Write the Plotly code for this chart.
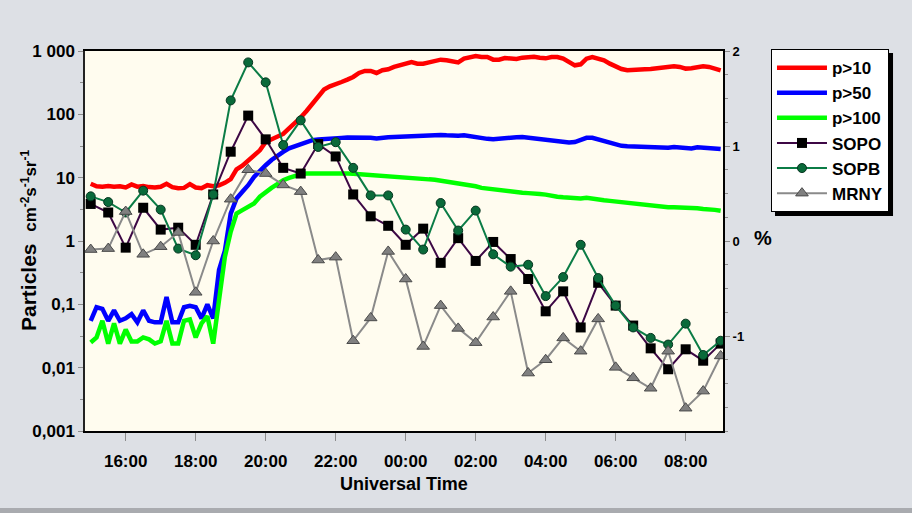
import pandas as pd
import plotly.graph_objects as go

# ---- integral proton flux, 10-minute samples, 15:00 -> 09:00 UT ----
flux_times = pd.date_range("2017-09-10 15:00", "2017-09-11 09:00", freq="10min")

p10 = [8.0, 7.3, 7.2, 7.4, 7.2, 7.3, 7.0, 7.8, 7.2, 7.4, 7.1, 7.0, 7.2, 8.0, 7.1, 6.8,
       6.9, 7.9, 7.0, 6.8, 7.6, 7.3,
       7.6, 8.3, 9.5, 13.5, 15.5, 18.4, 22.5, 27, 36.5, 40, 43, 49, 60, 72, 89, 113,
       148, 200, 246, 277, 305, 324, 353, 389, 450, 484, 484, 450, 496, 514, 560, 601, 647,
       670, 631, 631, 662, 695, 730, 713, 695, 662, 757, 804, 834, 804, 804, 730, 730,
       776, 757, 748, 785, 804, 814, 785, 766, 804, 804, 757, 670, 594, 616, 757, 804,
       748, 713, 631, 573, 520, 496, 496, 506, 514, 520, 533, 546, 546, 573, 560, 527,
       533, 546, 573, 560, 533, 496]

p50 = [0.055, 0.09, 0.085, 0.055, 0.08, 0.055, 0.06, 0.07, 0.052, 0.08, 0.055, 0.052,
       0.052, 0.13, 0.052, 0.052, 0.09, 0.095, 0.09, 0.06, 0.10, 0.06,
       0.35, 0.7, 2.7, 4.7, 6.0, 7.6, 10.3, 12.4, 15.7, 19, 22.5, 25.5, 29, 31.5, 34.5,
       36.5, 39, 40, 41, 41.4, 42, 42.5, 43, 43, 43.5, 43.5, 42.5, 41.4, 43, 43.5, 44,
       44.6, 45,
       45.5, 46, 46, 46.6, 47.2, 47.2, 46.6, 45.5, 46, 46.6, 45, 43, 42, 41, 40.4, 41.4,
       43, 43.5, 43.5, 44, 43, 42, 40.4, 39, 38, 37, 36.5, 36, 36.5, 39, 42.5, 42.5, 40,
       37, 34.5, 33, 31.8, 31.4, 31, 30.6, 30.6, 30.2, 30.2, 29.8, 29.8, 30.6, 30.2,
       29.8, 29, 30.2, 29.8, 28.7, 29, 28.3]

p100 = [0.025, 0.03, 0.055, 0.024, 0.05, 0.024, 0.04, 0.026, 0.026, 0.03, 0.028, 0.024,
        0.026, 0.055, 0.024, 0.024, 0.055, 0.058, 0.03, 0.05, 0.065, 0.024,
        0.117, 0.56, 1.4, 2.72, 3.07, 3.46, 3.9, 5.0, 6.0, 6.9, 7.9, 9.1, 9.9, 10.7, 11.3,
        11.6, 11.6, 11.8, 11.9, 11.9, 12, 11.9, 11.6, 11.5, 11.3, 11.0, 10.9, 10.7, 10.5,
        10.3, 10.1, 9.9, 9.8,
        9.6, 9.5, 9.4, 9.4, 9.3, 9.0, 8.7, 8.3, 8.2, 7.9, 7.7, 7.3, 6.9, 6.7, 6.6, 6.4,
        6.3, 6.1, 5.9, 5.8, 5.7, 5.7, 5.5, 5.4, 5.3, 5.0, 4.9, 4.8, 4.8, 4.7, 4.8, 4.6,
        4.5, 4.4, 4.3, 4.2, 4.0, 4.0, 3.9, 3.8, 3.7, 3.6, 3.5, 3.5, 3.4, 3.4, 3.4, 3.3,
        3.3, 3.3, 3.2, 3.2, 3.1, 3.0]

# ---- neutron monitor increase (%), 30-minute samples ----
nm_times = pd.date_range("2017-09-10 15:00", "2017-09-11 09:00", freq="30min")

sopo = [0.39, 0.30, -0.07, 0.35, 0.12, 0.14, -0.04, 0.49, 0.94, 1.32, 1.07, 0.77, 0.71,
        1.02, 0.89, 0.49, 0.26, 0.16, -0.04,
        0.13, -0.23, 0.03, -0.21, -0.01, -0.19, -0.40, -0.74, -0.53, -0.91, -0.44, -0.68,
        -0.89, -1.13, -1.35, -1.14, -1.26, -1.08]

sopb = [0.47, 0.41, 0.30, 0.53, 0.33, -0.08, -0.15, 0.49, 1.48, 1.88, 1.67, 1.01, 1.27,
        0.99, 1.04, 0.77, 0.48, 0.48, 0.12,
        -0.09, 0.40, 0.11, 0.32, -0.14, -0.27, -0.25, -0.58, -0.38, -0.04, -0.39, -0.68,
        -0.91, -1.02, -1.09, -0.87, -1.20, -1.05]

mrny = [-0.09, -0.08, 0.31, -0.14, -0.06, 0.09, -0.54, 0.00, 0.44, 0.75, 0.71, 0.59, 0.52,
        -0.20, -0.17, -1.05, -0.81, -0.11, -0.40,
        -1.11, -0.68, -0.92, -1.07, -0.80, -0.53, -1.39, -1.25, -1.02, -1.16, -0.82, -1.33,
        -1.44, -1.55, -1.16, -1.76, -1.58, -1.21]

# ---- axis labels ----
flux_tickvals = [1000, 100, 10, 1, 0.1, 0.01, 0.001]
flux_ticktext = ["1 000", "100", "10", "1", "0,1", "0,01", "0,001"]
flux_minor = [316.2, 31.62, 3.162, 0.3162, 0.03162, 0.003162]
pct_tickvals = [2, 1, 0, -1]
pct_ticktext = ["2", "1", "0", "-1"]

FONT = "Liberation Sans, Arial, sans-serif"

fig = go.Figure()

for name, vals, color in [("p>10", p10, "#ff0000"),
                          ("p>50", p50, "#0000ff"),
                          ("p>100", p100, "#00ff00")]:
    fig.add_trace(go.Scatter(x=flux_times, y=vals, name=name, mode="lines",
                             line=dict(color=color, width=4.5)))

fig.add_trace(go.Scatter(
    x=nm_times, y=sopo, name="SOPO", mode="lines+markers", yaxis="y2",
    line=dict(color="#3d0845", width=2),
    marker=dict(symbol="square", size=10, color="#000000", line=dict(width=0))))
fig.add_trace(go.Scatter(
    x=nm_times, y=sopb, name="SOPB", mode="lines+markers", yaxis="y2",
    line=dict(color="#0b7c46", width=2),
    marker=dict(symbol="circle", size=9, color="#0a6a3a",
                line=dict(width=1, color="#053520"))))
fig.add_trace(go.Scatter(
    x=nm_times, y=mrny, name="MRNY", mode="lines+markers", yaxis="y2",
    line=dict(color="#8a8a8a", width=2),
    marker=dict(symbol="triangle-up", size=11, color="#808080",
                line=dict(width=1, color="#4a4a4a"))))

tick_font = dict(family=FONT, size=17, color="black", weight="bold")

fig.update_layout(
    width=912, height=513,
    margin=dict(l=85, r=189, t=51, b=82),
    paper_bgcolor="#dde0e5",
    plot_bgcolor="#fffcef",
    font=dict(family=FONT, color="black"),
    xaxis=dict(
        type="date",
        range=["2017-09-10 14:50:13", "2017-09-11 09:04:00"],
        tickformat="%H:%M", tick0="2017-09-10 16:00", dtick=2 * 3600 * 1000,
        ticks="outside", ticklen=8, tickcolor="#8c8c8c", tickwidth=1,
        ticklabelstandoff=6,
        tickfont=tick_font,
        showline=True, linecolor="black", linewidth=2, mirror=True,
        showgrid=False, zeroline=False,
    ),
    yaxis=dict(
        type="log", range=[-3, 3],
        tickvals=flux_tickvals, ticktext=flux_ticktext,
        ticks="outside", ticklen=5, tickcolor="#8c8c8c", tickwidth=1,
        minor=dict(tickvals=flux_minor, ticks="outside", ticklen=3,
                   tickcolor="#8c8c8c", showgrid=False),
        tickfont=tick_font,
        showline=True, linecolor="#222222", linewidth=1.5,
        showgrid=False, zeroline=False,
    ),
    yaxis2=dict(
        overlaying="y", side="right", range=[-2, 2],
        tickvals=pct_tickvals, ticktext=pct_ticktext,
        ticks="outside", ticklen=5, tickcolor="#8c8c8c", tickwidth=1,
        minor=dict(dtick=0.25, tick0=0, ticks="outside", ticklen=3,
                   tickcolor="#8c8c8c", showgrid=False),
        tickfont=dict(family=FONT, size=13, color="black", weight="bold"),
        showline=True, linecolor="black", linewidth=2,
        showgrid=False, zeroline=False,
    ),
    legend=dict(
        x=1.0752, y=1.005, xanchor="left", yanchor="top",
        bgcolor="white", bordercolor="black", borderwidth=1,
        font=dict(family=FONT, size=17, color="black", weight="bold"),
        tracegroupgap=0, itemwidth=50,
    ),
    showlegend=True,
)

# axis captions
fig.add_annotation(
    xref="paper", yref="paper", x=-0.0893, y=0.5, xanchor="center", yanchor="middle",
    textangle=-90, showarrow=False,
    text="Particles  <span style='font-size:17px'>cm<sup>-2</sup>s<sup>-1</sup>sr<sup>-1</sup></span>",
    font=dict(family=FONT, size=21, color="black", weight="bold"))
fig.add_annotation(
    xref="paper", yref="paper", x=0.5, y=-0.139, xanchor="center", yanchor="middle",
    showarrow=False, text="Universal Time",
    font=dict(family=FONT, size=18, color="black", weight="bold"))
fig.add_annotation(
    xref="paper", yref="paper", x=1.0627, y=0.508, xanchor="center", yanchor="middle",
    showarrow=False, text="%",
    font=dict(family=FONT, size=20, color="black", weight="bold"))

# legend drop shadow and bottom frame strip
fig.add_shape(type="rect", xref="paper", yref="paper",
              x0=1.0815, x1=1.2665, y0=0.5658, y1=0.9947,
              fillcolor="black", line=dict(width=0), layer="above")
fig.add_shape(type="rect", xref="paper", yref="paper",
              x0=-0.2, x1=1.4, y0=-0.2026, y1=-0.25,
              fillcolor="#a9abaf", line=dict(width=0), layer="below")

fig.write_html("out.html")
